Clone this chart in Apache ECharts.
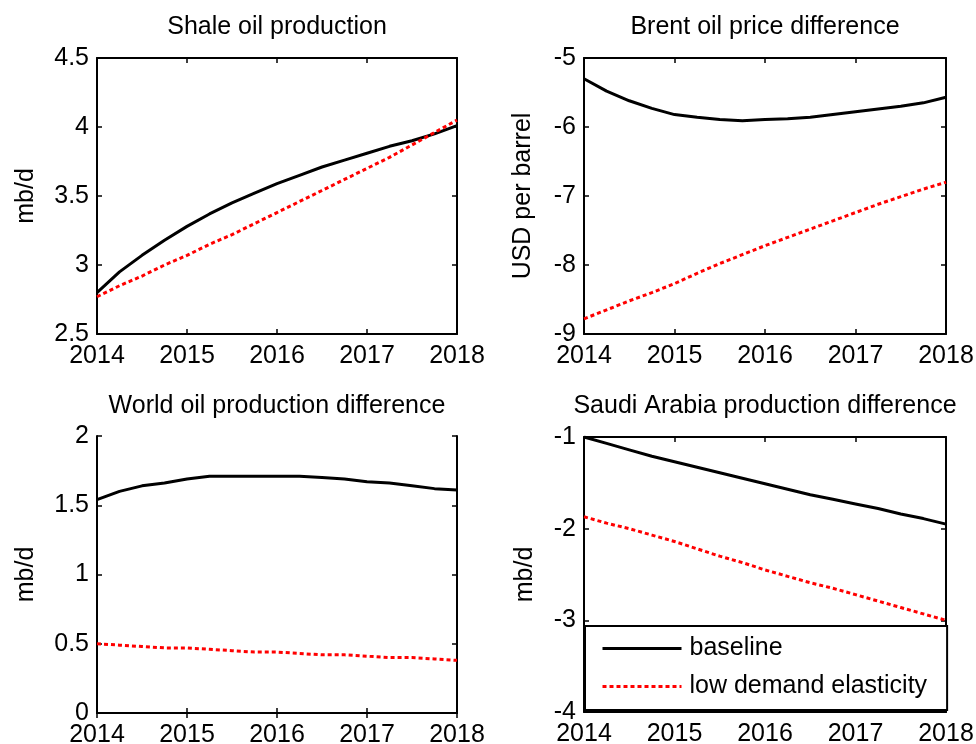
<!DOCTYPE html>
<html>
<head>
<meta charset="utf-8">
<script src="https://cdn.jsdelivr.net/npm/echarts@6/dist/echarts.min.js"></script>
<style>
  html, body { margin: 0; padding: 0; background: #fff; }
  #chart { width: 976px; height: 744px; }
</style>
</head>
<body>
<div id="chart"></div>
<script>
// quarterly points, 2014 -> 2018
const years = [2014, 2014.25, 2014.5, 2014.75, 2015, 2015.25, 2015.5, 2015.75,
  2016, 2016.25, 2016.5, 2016.75, 2017, 2017.25, 2017.5, 2017.75, 2018]
const yearTicks = ['2014', '2015', '2016', '2017', '2018']

// Shale oil production (mb/d)
const shaleBase = [2.80, 2.95, 3.07, 3.18, 3.28, 3.37, 3.45, 3.52, 3.59, 3.65, 3.71, 3.76, 3.81, 3.86, 3.90, 3.95, 4.01]
const shaleLow = [2.77, 2.85, 2.92, 3.00, 3.07, 3.15, 3.22, 3.30, 3.38, 3.46, 3.54, 3.62, 3.70, 3.78, 3.87, 3.96, 4.05]

// Brent oil price difference (USD per barrel)
const brentBase = [-5.30, -5.48, -5.62, -5.73, -5.82, -5.86, -5.89, -5.91, -5.89, -5.88, -5.86, -5.82, -5.78, -5.74, -5.70, -5.65, -5.57]
const brentLow = [-8.78, -8.65, -8.52, -8.40, -8.27, -8.12, -7.98, -7.85, -7.72, -7.60, -7.48, -7.36, -7.24, -7.12, -7.01, -6.90, -6.80]

// World oil production difference (mb/d)
const worldBase = [1.54, 1.60, 1.64, 1.66, 1.69, 1.71, 1.71, 1.71, 1.71, 1.71, 1.70, 1.69, 1.67, 1.66, 1.64, 1.62, 1.61]
const worldLow = [0.50, 0.49, 0.48, 0.47, 0.47, 0.46, 0.45, 0.44, 0.44, 0.43, 0.42, 0.42, 0.41, 0.40, 0.40, 0.39, 0.38]

// Saudi Arabia production difference (mb/d)
const saudiBase = [-1.00, -1.07, -1.14, -1.21, -1.27, -1.33, -1.39, -1.45, -1.51, -1.57, -1.63, -1.68, -1.73, -1.78, -1.84, -1.89, -1.95]
const saudiLow = [-1.87, -1.94, -2.00, -2.07, -2.14, -2.22, -2.30, -2.37, -2.45, -2.52, -2.59, -2.65, -2.72, -2.79, -2.86, -2.93, -3.00]

const FONT = '"Liberation Sans", Arial, sans-serif'
const FS = 25

// panel layout
const panels = [
  { title: 'Shale oil production', unit: 'mb/d', min: 2.5, max: 4.5, step: 0.5, base: shaleBase, low: shaleLow,
    left: 97, top: 58, width: 360, height: 276, titleTop: 15, nameGap: 58 },
  { title: 'Brent oil price difference', unit: 'USD per barrel', min: -9, max: -5, step: 1, base: brentBase, low: brentLow,
    left: 584, top: 58, width: 362, height: 276, titleTop: 15, nameGap: 48 },
  { title: 'World oil production difference', unit: 'mb/d', min: 0, max: 2, step: 0.5, base: worldBase, low: worldLow,
    left: 97, top: 436, width: 360, height: 277, titleTop: 394, nameGap: 58 },
  { title: 'Saudi Arabia production difference', unit: 'mb/d', min: -4, max: -1, step: 1, base: saudiBase, low: saudiLow,
    left: 584, top: 437, width: 362, height: 275, titleTop: 394, nameGap: 46 }
]

const axisLine = { show: true, lineStyle: { color: '#000', width: 2 } }
const tick = { show: true, inside: true, length: 5, lineStyle: { color: '#000', width: 1.5 } }
const label = { color: '#000', fontSize: FS, fontFamily: FONT }

const grid = [], xAxis = [], yAxis = [], title = [], series = []

panels.forEach((p, i) => {
  grid.push({ left: p.left, top: p.top, width: p.width, height: p.height, outerBoundsMode: 'none' })
  title.push({
    text: p.title, left: p.left + p.width / 2, top: p.titleTop, textAlign: 'center', padding: 0,
    textStyle: { color: '#000', fontSize: FS, fontWeight: 'normal', fontFamily: FONT }
  })
  // bottom + mirrored top
  xAxis.push({
    type: 'value', gridIndex: i, min: 2014, max: 2018, interval: 1, position: 'bottom',
    axisLine, axisTick: tick, splitLine: { show: false },
    axisLabel: { ...label, margin: 10, formatter: v => yearTicks[Math.round(v - 2014)] }
  })
  xAxis.push({
    type: 'value', gridIndex: i, min: 2014, max: 2018, interval: 1, position: 'top',
    axisLine, axisTick: tick, axisLabel: { show: false }, splitLine: { show: false }
  })
  // left + mirrored right
  yAxis.push({
    type: 'value', gridIndex: i, min: p.min, max: p.max, interval: p.step, position: 'left',
    name: p.unit, nameLocation: 'middle', nameGap: p.nameGap,
    nameTextStyle: { color: '#000', fontSize: FS, fontFamily: FONT },
    axisLine, axisTick: tick, splitLine: { show: false },
    axisLabel: { ...label, margin: 8 }
  })
  yAxis.push({
    type: 'value', gridIndex: i, min: p.min, max: p.max, interval: p.step, position: 'right',
    axisLine, axisTick: tick, axisLabel: { show: false }, splitLine: { show: false }
  })
  series.push({
    name: 'baseline', type: 'line', xAxisIndex: 2 * i, yAxisIndex: 2 * i,
    data: years.map((x, k) => [x, p.base[k]]), symbol: 'none', z: 3,
    lineStyle: { color: '#000', width: 3 }, itemStyle: { color: '#000' }
  })
  series.push({
    name: 'low demand elasticity', type: 'line', xAxisIndex: 2 * i, yAxisIndex: 2 * i,
    data: years.map((x, k) => [x, p.low[k]]), symbol: 'none', z: 3,
    lineStyle: { color: '#ff0000', width: 3, type: [4, 3] }, itemStyle: { color: '#ff0000' }
  })
})

const chart = echarts.init(document.getElementById('chart'))
chart.setOption({
  animation: false,
  backgroundColor: '#fff',
  title,
  grid,
  xAxis,
  yAxis,
  legend: {
    data: ['baseline', 'low demand elasticity'],
    orient: 'vertical', left: 585, top: 626,
    itemWidth: 79, itemHeight: 24, itemGap: 13,
    padding: [10, 20, 11, 16],
    backgroundColor: '#fff', borderColor: '#000', borderWidth: 2, borderRadius: 0,
    itemStyle: { opacity: 0 },
    lineStyle: { width: 3 },
    textStyle: { color: '#000', fontSize: FS, fontFamily: FONT, padding: [0, 0, 0, 3] },
    z: 10
  },
  series
})
</script>
</body>
</html>
